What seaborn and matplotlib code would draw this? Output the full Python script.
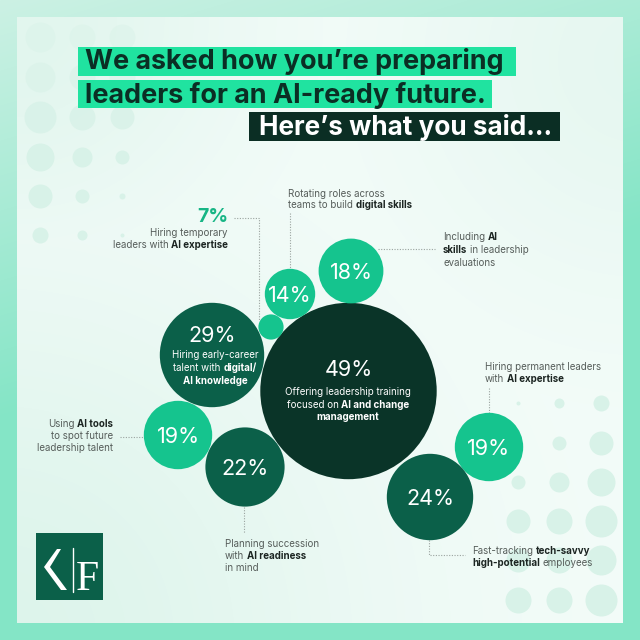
import numpy as np
import pandas as pd
import matplotlib
matplotlib.use("Agg")
import matplotlib.pyplot as plt
from matplotlib.patches import Rectangle, Polygon
import seaborn as sns

# ---------------- data ----------------
values = [49, 29, 18, 14, 7, 19, 24, 19, 22]
tones = ["darkest", "dark", "bright", "bright", "bright", "bright", "dark", "bright", "dark"]
pct_labels = [f"{v}%" for v in values]

title_lines = ["We asked how you\u2019re preparing",
               "leaders for an AI-ready future.",
               "Here\u2019s what you said..."]

# ---------------- layout (pixel space) ----------------
bub_x = [348.5, 212, 351, 290, 271, 489, 430, 178, 245]
bub_y = [391, 355, 271, 294, 327, 447, 497, 435, 467]
PX_PER_PCT = 1.8  # radius in px per percent

palette = {"bright": "#15c48e", "dark": "#0b6049", "darkest": "#0a3428"}
TXT = "#565d5a"
TXTB = "#1c2522"

sns.set_theme(style="white")
plt.rcParams['font.family'] = ['Inter', 'DejaVu Sans']

fig = plt.figure(figsize=(6.4, 6.4), dpi=100)
ax = fig.add_axes([0, 0, 1, 1])
ax.set_xlim(0, 640)
ax.set_ylim(640, 0)
ax.axis('off')

# ---------------- background ----------------
H = W = 640
yy, xx = np.mgrid[0:H, 0:W].astype(float)
c_light = np.array([0xcc, 0xf1, 0xe4]) / 255
c_mint = np.array([0x84, 0xe5, 0xc6]) / 255
t = np.clip(yy / 420 + xx / 1400, 0, 1)[..., None]
outer = c_light * (1 - t) + c_mint * t
ax.imshow(outer, extent=(0, 640, 640, 0), aspect='auto', zorder=0)

base = np.array([0xf4, 0xfc, 0xf9]) / 255
tint = np.array([0xd6, 0xf2, 0xe7]) / 255
w = np.maximum.reduce([
    0.75 * np.exp(-((xx - 0) ** 2 + (yy - 640) ** 2) / (2 * 260 ** 2)),
    0.6 * np.exp(-((xx - 20) ** 2 + (yy - 20) ** 2) / (2 * 160 ** 2)),
    0.45 * np.exp(-((xx - 640) ** 2 + (yy - 60) ** 2) / (2 * 170 ** 2)),
])[..., None]
inner = base * (1 - w) + tint * w
ax.imshow(inner[17:623, 17:623], extent=(17, 623, 623, 17), aspect='auto', zorder=0.5)

# decorative dot grids (x, y, r, alpha)
dots = [
    (40, 37, 15, .45), (82, 37, 13, .45), (122, 37, 13, .45),
    (40, 77, 15, .6), (82, 77, 13, .6), (122, 77, 13, .6),
    (40, 117, 16, .85), (82, 117, 13, .85), (122, 117, 12, .85),
    (40, 157, 14, 1), (82, 157, 10, 1), (122, 157, 7, 1),
    (40, 196, 12, 1), (82, 196, 7, 1), (122, 196, 3, 1),
    (40, 235, 8, 1), (82, 235, 5, 1), (122, 235, 2, 1),
    (518, 403, 2, 1), (559, 403, 5, 1), (601, 403, 8, 1),
    (559, 443, 7, 1), (601, 443, 12, 1),
    (518, 482, 7, 1), (559, 482, 10, 1), (601, 482, 14, 1),
    (518, 521, 12, 1), (559, 521, 13, 1), (601, 521, 16, 1),
    (518, 560, 12, 1), (559, 560, 13, 1), (601, 560, 15, 1),
    (518, 600, 13, 1), (559, 600, 13, 1), (601, 600, 16, 1),
]
for x_, y_, r_, a_ in dots:
    ax.scatter([x_], [y_], s=[(2 * r_ * 0.72) ** 2], color="#d8f2e8", alpha=a_, linewidths=0, zorder=1)

# ---------------- helpers ----------------
renderer = fig.canvas.get_renderer()

def text_w(s, size, weight):
    t = ax.text(0, 0, s, fontsize=size, fontweight=weight)
    bb = t.get_window_extent(renderer)
    t.remove()
    return bb.width

def space_w(size, weight):
    return text_w("a a", size, weight) - text_w("aa", size, weight)

def rich(x, y, segs, size=7.0, ha='left', cn=TXT, cb=TXTB, z=6):
    items = []
    total = 0.0
    for s, b in segs:
        wt = 'bold' if b else 'normal'
        lead = len(s) - len(s.lstrip(' '))
        trail = len(s) - len(s.rstrip(' '))
        core = s.strip(' ')
        sp = space_w(size, wt)
        total += lead * sp
        cw = text_w(core, size, wt)
        items.append((total, core, wt, cb if b else cn))
        total += cw + trail * sp
    x0 = x if ha == 'left' else (x - total / 2 if ha == 'center' else x - total)
    for off, core, wt, col in items:
        ax.text(x0 + off, y, core, fontsize=size, fontweight=wt, color=col,
                ha='left', va='center_baseline', zorder=z)

def block(x, y0, lines, dy=12.3, **kw):
    for i, segs in enumerate(lines):
        rich(x, y0 + i * dy, segs, **kw)

def leader(xs, ys):
    ax.plot(xs, ys, color="#9aa39f", lw=0.8, ls=(0, (1, 1.4)), zorder=2)

# ---------------- title ----------------
boxes = [(78, 47, 516, 76, "#20e3a0"), (78, 80, 492, 108, "#20e3a0"), (249, 112, 560, 141, "#0b2e24")]
text_x = [85, 85, 259]
text_w_target = [420, 402, 294]
baselines = [69, 103, 135]
tcolors = ["#0b2e24", "#0b2e24", "white"]
for (x0, y0, x1, y1, col), line, tx, tw, bl, tc in zip(boxes, title_lines, text_x, text_w_target, baselines, tcolors):
    ax.add_patch(Rectangle((x0, y0), x1 - x0, y1 - y0, color=col, zorder=3, lw=0))
    fs = 20 * tw / text_w(line, 20, 'bold')
    ax.text(tx, bl, line, fontsize=fs, fontweight='bold', color=tc, ha='left', va='baseline', zorder=4)

# ---------------- leader lines ----------------
leader([234, 259, 259], [218, 218, 320])
leader([290, 290], [213, 270])
leader([378, 435], [249, 249])
leader([489, 489], [388, 413])
leader([429, 429, 465], [540, 555, 555])
leader([120, 144], [437, 437])
leader([244, 244], [507, 533])

# ---------------- bubbles ----------------
df = pd.DataFrame({"x": bub_x, "y": bub_y, "value": values, "tone": tones})
sizes = [(2 * PX_PER_PCT * v * 0.72) ** 2 for v in values]
sns.scatterplot(data=df, x="x", y="y", hue="tone", palette=palette, s=sizes,
                linewidth=0, legend=False, ax=ax, zorder=3)
ax.set_xlim(0, 640)
ax.set_ylim(640, 0)
ax.axis('off')

for v, lab, x, y in zip(values, pct_labels, bub_x, bub_y):
    if v == 7:
        continue
    yy_ = y
    if v == 49:
        yy_ = y - 23
    if v == 29:
        yy_ = y - 21
    ax.text(x, yy_, lab, fontsize=15.5, color="white", ha='center', va='center_baseline', zorder=5)

# 7% label outside
ax.text(228, 215, "7%", fontsize=14, fontweight='bold', color="#17b585", ha='right', va='center_baseline', zorder=5)

# ---------------- labels ----------------
block(228, 232, [[("Hiring temporary", False)], [("leaders with ", False), ("AI expertise", True)]], ha='right')
block(288, 193, [[("Rotating roles across", False)], [("teams to build ", False), ("digital skills", True)]], ha='left', dy=11.5)
block(443, 236.5, [[("Including ", False), ("AI", True)], [("skills", True), (" in leadership", False)], [("evaluations", False)]], ha='left', dy=12.5)
block(485, 366, [[("Hiring permanent leaders", False)], [("with ", False), ("AI expertise", True)]], ha='left')
block(472, 550, [[("Fast-tracking ", False), ("tech-savvy", True)], [("high-potential", True), (" employees", False)]], ha='left')
block(113, 423, [[("Using ", False), ("AI tools", True)], [("to spot future", False)], [("leadership talent", False)]], ha='right', dy=12)
block(225, 543, [[("Planning succession", False)], [("with ", False), ("AI readiness", True)], [("in mind", False)]], ha='left', dy=12)

block(215, 354.5, [[("Hiring early-career", False)], [("talent with ", False), ("digital/", True)], [("AI knowledge", True)]],
      ha='center', cn="white", cb="white", dy=12.5)
block(348, 391, [[("Offering leadership training", False)], [("focused on ", False), ("AI and change", True)], [("management", True)]],
      ha='center', cn="white", cb="white", dy=12.5)

# ---------------- logo ----------------
ax.add_patch(Rectangle((36, 533), 67, 67, color="#0b6049", lw=0, zorder=3))
ax.add_patch(Polygon([(57, 549), (61, 549), (50, 567), (67, 590), (61, 590), (44, 567)],
                     closed=True, color="white", lw=0, zorder=4))
ax.plot([72.5, 72.5], [548, 592], color="white", lw=1.0, zorder=4)
ax.text(76, 590, "F", fontsize=30, family=["Liberation Serif", "DejaVu Serif"], color="white",
        ha='left', va='baseline', zorder=4)

fig.savefig("out.png", dpi=100)
